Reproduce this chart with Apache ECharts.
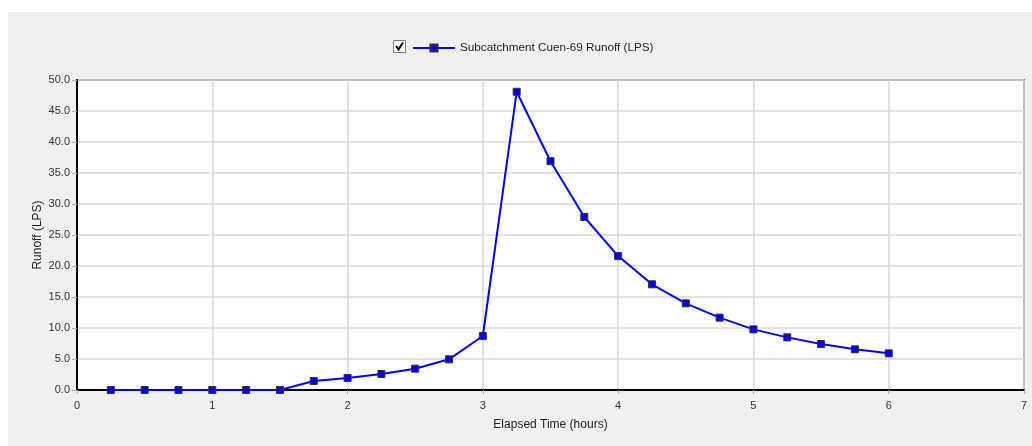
<!DOCTYPE html>
<html>
<head>
<meta charset="utf-8">
<script src="https://cdn.jsdelivr.net/npm/echarts@6/dist/echarts.min.js"></script>
<style>
html,body{margin:0;padding:0;background:#ffffff;width:1032px;height:446px;overflow:hidden;}
#c{position:absolute;left:8px;top:12px;width:1024px;height:434px;background:#f0f0f0;}
</style>
</head>
<body>
<div id="c"></div>
<script>
const seriesName = 'Subcatchment Cuen-69 Runoff (LPS)';
const hours = [0.25,0.5,0.75,1.0,1.25,1.5,1.75,2.0,2.25,2.5,2.75,3.0,3.25,3.5,3.75,4.0,4.25,4.5,4.75,5.0,5.25,5.5,5.75,6.0];
const runoff = [0,0,0,0,0,0,1.45,1.94,2.58,3.44,4.95,8.71,48.1,36.9,27.9,21.6,17.05,13.98,11.67,9.78,8.49,7.42,6.56,5.91];
const xTicks = [0,1,2,3,4,5,6,7];
const yTicks = ['0.0','5.0','10.0','15.0','20.0','25.0','30.0','35.0','40.0','45.0','50.0'];

const chart = echarts.init(document.getElementById('c'), null, {renderer:'canvas'});
const font = 'Liberation Sans, Arial, sans-serif';
chart.setOption({
  backgroundColor: '#f0f0f0',
  animation: false,
  textStyle: {fontFamily: font},
  grid: {left: 69, right: 8, top: 68, bottom: 56, show: true, backgroundColor: '#ffffff', borderColor: '#808080', borderWidth: 2, containLabel: false},
  legend: {
    left: 399, top: 25, itemWidth: 42, itemHeight: 9, itemGap: 5,
    textStyle: {fontFamily: font, fontSize: 11.7, color: '#222'},
    data: [{name: seriesName}],
    selectedMode: false
  },
  graphic: [
    {type:'rect', left: 385, top: 28, shape:{width:12, height:12}, style:{fill:'#ffffff', stroke:'#7a7a7a', lineWidth:1}},
    {type:'polyline', shape:{points:[[388,34],[390.5,37.5],[395,30.5]]}, style:{stroke:'#000', lineWidth:2, fill:null}}
  ],
  xAxis: {
    type: 'value', min: 0, max: 7, interval: 1,
    name: 'Elapsed Time (hours)', nameLocation: 'middle', nameGap: 29, nameMoveOverlap: false,
    nameTextStyle: {fontFamily: font, fontSize: 12, color: '#222'},
    axisLine: {show: true, onZero: false, lineStyle: {color: '#000', width: 2}},
    axisTick: {show: true, length: 4, lineStyle: {color: '#aaa'}},
    axisLabel: {fontFamily: font, fontSize: 11, color: '#333', margin: 10, formatter: v => xTicks.includes(v) ? String(v) : ''},
    splitLine: {show: true, lineStyle: {color: '#d9d9d9', width: 1.5}}
  },
  yAxis: {
    type: 'value', min: 0, max: 50, interval: 5,
    name: 'Runoff (LPS)', nameLocation: 'middle', nameGap: 33, nameRotate: 90, nameMoveOverlap: false,
    nameTextStyle: {fontFamily: font, fontSize: 12, color: '#222'},
    axisLine: {show: true, lineStyle: {color: '#000', width: 2}},
    axisTick: {show: true, length: 5, lineStyle: {color: '#aaa'}},
    axisLabel: {fontFamily: font, fontSize: 11, color: '#333', margin: 7, formatter: v => yTicks[Math.round(v/5)]},
    splitLine: {show: true, lineStyle: {color: '#d9d9d9', width: 1.5}}
  },
  series: [{
    name: seriesName, type: 'line',
    data: hours.map((h,i) => [h, runoff[i]]),
    symbol: 'rect', symbolSize: 7, showAllSymbol: true,
    lineStyle: {color: '#0000ff', width: 2},
    itemStyle: {color: '#0000ff', borderColor: '#333', borderWidth: 1}
  }]
});
</script>
</body>
</html>
